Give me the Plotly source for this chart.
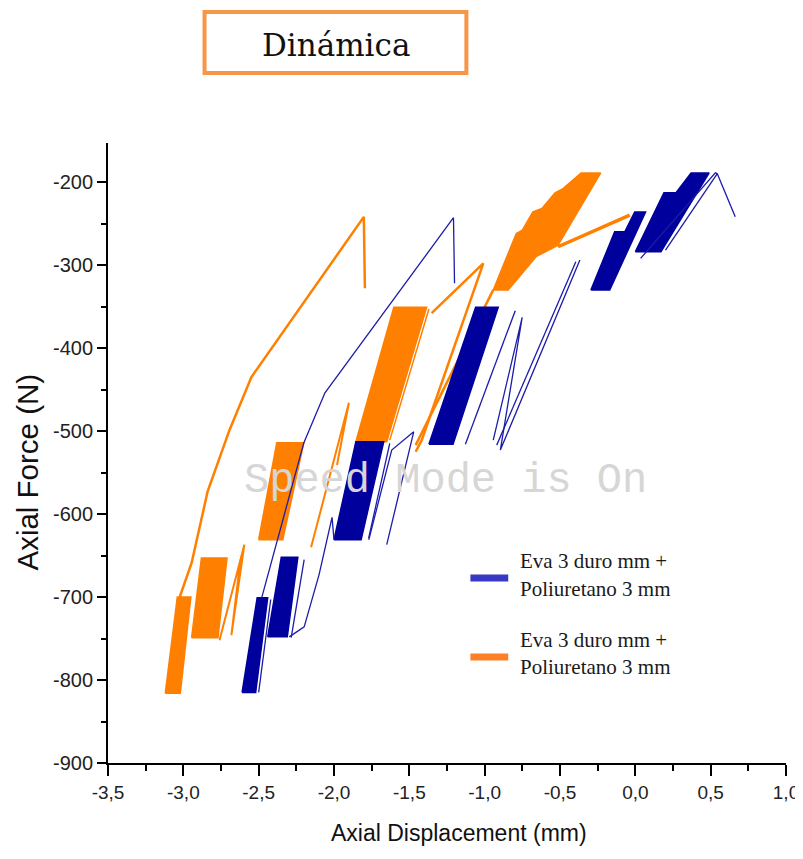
import plotly.graph_objects as go

# ---------------- data (Axial Displacement mm, Axial Force N) ----------------
# Series 1: blue  (Eva 3 duro mm + Poliuretano 3 mm)
blue_band1_x = [-2.61, -2.51, -2.44, -2.52]
blue_band1_y = [-815, -701, -701, -815]
blue_band2_x = [-2.44, -2.35, -2.24, -2.31]
blue_band2_y = [-748, -652, -652, -748]
blue_band3_x = [-2.00, -1.855, -1.67, -1.82]
blue_band3_y = [-631, -513, -513, -631]
blue_band4_x = [-1.37, -1.06, -0.91, -1.21]
blue_band4_y = [-516, -351, -351, -516]
blue_band5_x = [-0.295, -0.137, -0.07, -0.004, 0.068, -0.17]
blue_band5_y = [-330, -260, -260, -236, -236, -330]
blue_band6_x = [0.00, 0.19, 0.27, 0.37, 0.49, 0.17]
blue_band6_y = [-284, -213, -213, -189, -189, -284]

blue_long_x = [-2.48, -2.20, -2.06, -1.207, -1.20]
blue_long_y = [-701, -514, -454, -243, -322]
blue_link1_x = [-2.297, -2.198, -2.099, -2.013, -2.00]
blue_link1_y = [-748, -736, -673, -604, -631]
blue_link2_x = [-2.284, -2.198]
blue_link2_y = [-749, -655]
blue_link3_x = [-2.50, -2.42]
blue_link3_y = [-815, -703]
blue_outline3_x = [-1.77, -1.63]
blue_outline3_y = [-629, -515]
blue_v_x = [-1.769, -1.617, -1.471, -1.65]
blue_v_y = [-631, -523, -501, -637]
blue_outline4_x = [-1.128, -0.797]
blue_outline4_y = [-516, -355]
blue_zig_x = [-0.943, -0.751, -0.896, -0.368]
blue_zig_y = [-511, -363, -523, -294]
blue_zig2_x = [-0.92, -0.395]
blue_zig2_y = [-517, -296]
blue_peak_x = [0.035, 0.531, 0.544, 0.663]
blue_peak_y = [-292, -189, -190, -242]
blue_peak2_x = [0.20, 0.544]
blue_peak2_y = [-282, -190]

# Series 2: orange (Eva 3 duro mm + Poliuretano 3 mm)
orange_band1_x = [-3.12, -3.04, -2.95, -3.02]
orange_band1_y = [-816, -700, -700, -816]
orange_band2_x = [-2.945, -2.88, -2.71, -2.77]
orange_band2_y = [-749, -653, -653, -749]
orange_band3_x = [-2.50, -2.38, -2.20, -2.34]
orange_band3_y = [-631, -514, -514, -631]
orange_band4_x = [-1.855, -1.603, -1.385, -1.65]
orange_band4_y = [-513, -351, -351, -513]
orange_band5_x = [-0.943, -0.79, -0.75, -0.68, -0.62, -0.533, -0.48, -0.36, -0.23, -0.513, -0.659, -0.844]
orange_band5_y = [-330, -262, -258, -236, -232, -213, -208, -189, -189, -276, -290, -330]

orange_long_x = [-3.024, -2.945, -2.839, -2.694, -2.548, -1.802, -1.795]
orange_long_y = [-700, -659, -573, -499, -435, -242, -328]
orange_link1_x = [-2.76, -2.595, -2.681, -2.621]
orange_link1_y = [-752, -637, -746, -655]
orange_link2_x = [-2.152, -1.901, -1.98]
orange_link2_y = [-640, -466, -541]
orange_outline4_x = [-1.63, -1.37]
orange_outline4_y = [-511, -353]
orange_peak_x = [-1.352, -1.009, -1.418, -1.458]
orange_peak_y = [-358, -298, -511, -525]
orange_rise_x = [-1.458, -0.943]
orange_rise_y = [-517, -330]
orange_tip_x = [-0.513, -0.037]
orange_tip_y = [-278, -240]

x_tick_vals = [-3.5, -3.0, -2.5, -2.0, -1.5, -1.0, -0.5, 0.0, 0.5, 1.0]
x_tick_text = ["-3,5", "-3,0", "-2,5", "-2,0", "-1,5", "-1,0", "-0,5", "0,0", "0,5", "1,0"]
y_tick_vals = [-900, -800, -700, -600, -500, -400, -300, -200]
y_tick_text = ["-900", "-800", "-700", "-600", "-500", "-400", "-300", "-200"]

legend_labels = ["Eva 3 duro mm +", "Poliuretano 3 mm"]

# ---------------- styling ----------------
BLUE_FILL = "#00009C"
BLUE_LINE = "#1C1CAA"
ORANGE = "#FF8000"

fig = go.Figure()


def band(xs, ys, color):
    fig.add_trace(go.Scatter(x=xs + xs[:1], y=ys + ys[:1], mode="lines", fill="toself",
                             fillcolor=color, line=dict(color=color, width=1.5),
                             hoverinfo="skip", showlegend=False))


def line(xs, ys, color, width):
    fig.add_trace(go.Scatter(x=xs, y=ys, mode="lines", line=dict(color=color, width=width),
                             hoverinfo="skip", showlegend=False))


# orange first (blue drawn on top)
for bx, by in [(orange_band1_x, orange_band1_y), (orange_band2_x, orange_band2_y),
               (orange_band3_x, orange_band3_y), (orange_band4_x, orange_band4_y),
               (orange_band5_x, orange_band5_y)]:
    band(bx, by, ORANGE)
for lx, ly, w in [(orange_long_x, orange_long_y, 2.5), (orange_link1_x, orange_link1_y, 2),
                  (orange_link2_x, orange_link2_y, 2), (orange_outline4_x, orange_outline4_y, 1.5),
                  (orange_peak_x, orange_peak_y, 2.5),
                  (orange_rise_x, orange_rise_y, 2.5), (orange_tip_x, orange_tip_y, 3.5)]:
    line(lx, ly, ORANGE, w)

for bx, by in [(blue_band1_x, blue_band1_y), (blue_band2_x, blue_band2_y),
               (blue_band3_x, blue_band3_y), (blue_band4_x, blue_band4_y),
               (blue_band5_x, blue_band5_y), (blue_band6_x, blue_band6_y)]:
    band(bx, by, BLUE_FILL)
for lx, ly in [(blue_long_x, blue_long_y), (blue_link1_x, blue_link1_y),
               (blue_link2_x, blue_link2_y), (blue_link3_x, blue_link3_y),
               (blue_outline3_x, blue_outline3_y), (blue_v_x, blue_v_y),
               (blue_outline4_x, blue_outline4_y), (blue_zig_x, blue_zig_y),
               (blue_zig2_x, blue_zig2_y), (blue_peak_x, blue_peak_y),
               (blue_peak2_x, blue_peak2_y)]:
    line(lx, ly, BLUE_LINE, 1.3)

x_tick_font = dict(family="Liberation Sans, Arial, sans-serif", size=19, color="#222222")
y_tick_font = dict(family="Liberation Sans, Arial, sans-serif", size=20, color="#222222")

fig.update_layout(
    width=803, height=859,
    margin=dict(l=100, r=22, t=135, b=104),
    paper_bgcolor="white", plot_bgcolor="white",
    showlegend=False,
    xaxis=dict(range=[-3.5, 1.0], tickmode="array", tickvals=x_tick_vals, ticktext=x_tick_text,
               ticks="outside", ticklen=11, tickwidth=2, tickcolor="black",
               showline=True, linewidth=2, linecolor="black", showgrid=False, zeroline=False,
               tickfont=x_tick_font,
               minor=dict(tickmode="linear", tick0=-3.5, dtick=0.25, ticks="outside",
                          ticklen=6, tickwidth=2, tickcolor="black", showgrid=False)),
    yaxis=dict(range=[-900, -153], tickmode="array", tickvals=y_tick_vals, ticktext=y_tick_text,
               ticks="outside", ticklen=9, tickwidth=2, tickcolor="black",
               showline=True, linewidth=2, linecolor="black", showgrid=False, zeroline=False,
               tickfont=y_tick_font,
               minor=dict(tickmode="linear", tick0=-900, dtick=50, ticks="outside",
                          ticklen=5, tickwidth=2, tickcolor="black", showgrid=False)),
)

# Title box
fig.add_shape(type="rect", xref="paper", yref="paper", x0=0.1424, x1=0.5286, y0=1.1129, y1=1.2113,
              line=dict(color="#F79646", width=4), fillcolor="white")
fig.add_annotation(text="Dinámica", xref="paper", yref="paper", x=0.3363, y=1.158,
                   showarrow=False, font=dict(family="DejaVu Serif, serif", size=31, color="#111111"),
                   xanchor="center", yanchor="middle")

# Axis titles
fig.add_annotation(text="Axial Displacement (mm)", xref="paper", yref="paper", x=0.518, y=-0.113,
                   showarrow=False, font=dict(family="Liberation Sans, Arial, sans-serif", size=23, color="#111111"),
                   xanchor="center", yanchor="middle")
fig.add_annotation(text="Axial Force (N)", xref="paper", yref="paper", x=-0.119, y=0.469,
                   textangle=-90, showarrow=False,
                   font=dict(family="Liberation Sans, Arial, sans-serif", size=29.5, color="#111111"),
                   xanchor="center", yanchor="middle")

# Watermark
fig.add_annotation(text="Speed Mode is On", xref="paper", yref="paper", x=0.4978, y=0.4548,
                   showarrow=False, font=dict(family="Liberation Mono, Courier New, monospace", size=42, color="#D6D6D6"),
                   xanchor="center", yanchor="middle")

# Manual legend
leg_font = dict(family="Liberation Serif, Times New Roman, serif", size=21, color="#1a1a1a")
for color, ys, yl in [("#3838C4", (0.3258, 0.2806), 0.2984), ("#FF7F27", (0.1984, 0.1548), 0.171)]:
    fig.add_shape(type="line", xref="paper", yref="paper", x0=0.5345, x1=0.5903, y0=yl, y1=yl,
                  line=dict(color=color, width=7))
    for txt, yy in zip(legend_labels, ys):
        fig.add_annotation(text=txt, xref="paper", yref="paper", x=0.605, y=yy, showarrow=False,
                           font=leg_font, xanchor="left", yanchor="middle")

fig.write_html("out.html")
